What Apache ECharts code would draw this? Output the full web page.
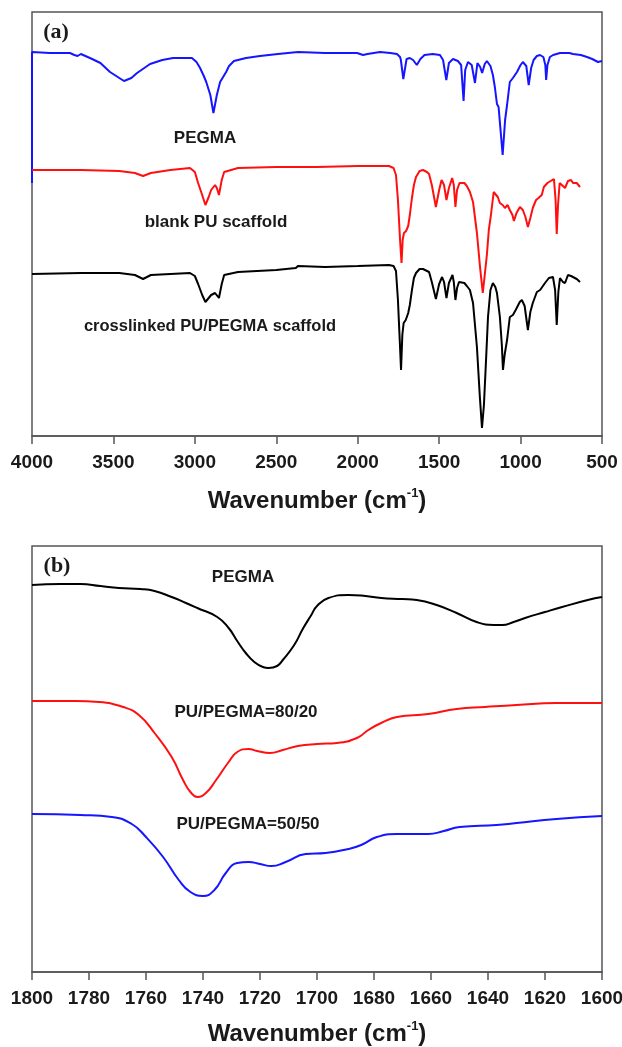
<!DOCTYPE html>
<html>
<head>
<meta charset="utf-8">
<title>FTIR spectra</title>
<script src="https://cdn.jsdelivr.net/npm/echarts/dist/echarts.min.js"></script>
<style>
    body { margin: 0; background: #fff; }
    #main { width: 622px; height: 1047px; }
</style>
</head>
<body>
<div id="main"></div>
<script>
// (a) full range spectra, [wavenumber, transmittance a.u.]
var pegmaFull = [
    [4000, 253], [4000, 384], [3890, 383], [3767, 383], [3740, 381], [3720, 380], [3700, 382],
    [3644, 378], [3580, 373], [3521, 364], [3435, 355], [3390, 358], [3355, 363], [3275, 372],
    [3200, 376], [3134, 378], [3018, 378], [2990, 374], [2968, 368], [2945, 360], [2930, 354],
    [2905, 341], [2886, 323], [2865, 341], [2845, 354], [2808, 364], [2790, 370], [2760, 375],
    [2686, 378], [2600, 380], [2490, 382], [2367, 384], [2200, 383], [2109, 383], [2004, 383],
    [1967, 381], [1940, 382], [1863, 384], [1800, 383], [1759, 382], [1740, 379], [1735, 376],
    [1720, 357], [1700, 377], [1680, 378], [1660, 376], [1637, 371], [1615, 377], [1590, 381],
    [1540, 382], [1495, 381], [1476, 376], [1456, 356], [1440, 373], [1415, 377], [1385, 375],
    [1365, 371], [1350, 335], [1340, 366], [1323, 374], [1300, 371], [1280, 353], [1265, 373],
    [1248, 369], [1236, 363], [1220, 372], [1207, 375], [1185, 370], [1170, 361], [1158, 349],
    [1145, 332], [1135, 329], [1125, 328], [1110, 281], [1095, 316], [1083, 331], [1066, 354],
    [1055, 354], [1047, 358], [1022, 364], [1000, 371], [986, 374], [965, 370], [950, 351],
    [935, 368], [920, 376], [900, 380], [881, 381], [860, 379], [848, 371], [843, 356],
    [835, 371], [820, 379], [800, 381], [758, 383], [700, 383], [678, 382], [630, 381],
    [592, 379], [560, 377], [525, 374], [515, 373], [500, 375]
];
var blankPU = [
    [4000, 266], [3700, 266], [3464, 265], [3368, 263], [3318, 260], [3270, 263], [3150, 266],
    [3030, 268], [3000, 264], [2980, 253], [2955, 241], [2935, 231], [2915, 239], [2900, 246],
    [2876, 251], [2865, 248], [2852, 241], [2835, 256], [2820, 264], [2735, 268], [2500, 269],
    [2250, 269], [2000, 270], [1808, 270], [1780, 268], [1765, 261], [1753, 236], [1740, 196],
    [1731, 173], [1724, 196], [1716, 203], [1703, 205], [1690, 210], [1680, 221], [1667, 238],
    [1655, 251], [1642, 259], [1620, 265], [1599, 266], [1575, 264], [1562, 262], [1545, 251],
    [1520, 229], [1500, 246], [1485, 256], [1470, 251], [1455, 236], [1440, 248], [1420, 258],
    [1410, 251], [1400, 229], [1390, 246], [1375, 253], [1345, 253], [1330, 250], [1311, 244],
    [1292, 234], [1268, 203], [1249, 169], [1232, 143], [1220, 161], [1207, 181], [1195, 206],
    [1182, 221], [1165, 244], [1155, 246], [1140, 239], [1127, 233], [1110, 231], [1096, 228],
    [1080, 231], [1066, 226], [1050, 221], [1041, 215], [1025, 223], [1004, 229], [986, 226],
    [970, 219], [955, 209], [940, 218], [925, 228], [905, 236], [890, 238], [870, 241],
    [857, 249], [835, 253], [815, 255], [795, 257], [785, 236], [778, 202], [770, 231],
    [760, 253], [740, 250], [727, 248], [709, 255], [690, 256], [678, 253], [655, 253], [635, 249]
];
var crosslinked = [
    [4000, 162], [3700, 163], [3464, 163], [3368, 161], [3318, 157], [3270, 161], [3030, 163],
    [3000, 160], [2980, 152], [2955, 141], [2935, 134], [2915, 138], [2900, 141], [2876, 143],
    [2865, 142], [2852, 138], [2835, 152], [2820, 161], [2735, 164], [2500, 166], [2380, 168],
    [2367, 170], [2355, 168], [2200, 169], [2000, 170], [1808, 171], [1780, 170], [1765, 165],
    [1753, 136], [1742, 96], [1734, 66], [1726, 101], [1718, 113], [1705, 116], [1690, 123],
    [1680, 131], [1667, 146], [1655, 158], [1642, 163], [1620, 167], [1599, 167], [1562, 164],
    [1545, 154], [1520, 137], [1500, 152], [1482, 159], [1470, 154], [1455, 138], [1440, 153],
    [1418, 161], [1410, 154], [1400, 136], [1390, 148], [1378, 154], [1345, 153], [1330, 150],
    [1311, 146], [1292, 133], [1268, 89], [1250, 39], [1237, 8], [1225, 31], [1212, 76],
    [1200, 119], [1185, 146], [1170, 153], [1155, 149], [1145, 143], [1127, 119], [1115, 91],
    [1108, 66], [1098, 81], [1083, 96], [1066, 119], [1047, 121], [1030, 126], [1005, 134],
    [992, 136], [975, 130], [955, 106], [940, 124], [925, 133], [900, 144], [880, 146],
    [850, 153], [826, 158], [801, 159], [788, 146], [778, 111], [768, 144], [758, 158],
    [740, 154], [727, 153], [709, 161], [690, 160], [678, 159], [655, 157], [635, 154]
];

// (b) carbonyl region
var pegmaCO = [
    [1800, 387], [1790, 388], [1783, 388], [1776, 386], [1769.5, 384], [1762, 383], [1757, 381],
    [1751, 375], [1746, 369], [1742, 364], [1735, 355], [1731, 344], [1728, 331], [1725, 319],
    [1722, 310], [1719, 305], [1717, 304], [1714, 306], [1712, 312], [1708, 327], [1705, 343],
    [1702, 357], [1700, 366], [1696, 374], [1689, 377], [1683, 376], [1677.5, 374], [1670, 373],
    [1665, 372], [1658, 367], [1651, 359], [1644, 350], [1638, 347], [1635, 347], [1631, 350],
    [1627, 354], [1620, 360], [1614, 365], [1605, 372], [1600, 375]
];
var pu8020 = [
    [1800, 271], [1785, 271], [1776.5, 270], [1768, 265], [1762.5, 257], [1757, 239], [1751, 215],
    [1747, 192], [1744.4, 180], [1742, 175], [1739, 179], [1735.4, 192], [1731, 210], [1728, 220],
    [1724, 223], [1721, 221], [1716.5, 219], [1712, 222], [1706.7, 226], [1700, 228], [1693, 229],
    [1686, 234], [1682, 242], [1677.5, 249], [1672, 255], [1661, 258], [1651, 263], [1641, 265],
    [1630, 267], [1616, 269], [1600, 269]
];
var pu5050 = [
    [1800, 158], [1783, 157], [1772, 155], [1765, 148], [1760, 135], [1754, 115], [1748.5, 92],
    [1744.4, 80], [1740, 76], [1736, 82], [1732, 99], [1728, 109], [1724, 110], [1720, 108],
    [1716, 106], [1711, 110], [1704, 118], [1697, 119], [1689, 123], [1684.5, 127], [1679, 135],
    [1672, 138], [1661, 138], [1655.5, 141], [1650, 145], [1637, 147], [1630, 149], [1616, 153],
    [1600, 156]
];

var chart = echarts.init(document.getElementById('main'));

var font = 'Liberation Sans, Arial, sans-serif';
var ink = '#1a1a1a';

function makeX(idx, min, max, step, gap) {
    return {
        gridIndex: idx,
        type: 'value',
        inverse: true,
        min: min,
        max: max,
        interval: step,
        name: '{t|Wavenumber (cm}{s|-1}{t|)}',
        nameLocation: 'middle',
        nameGap: gap,
        nameTextStyle: {
            rich: {
                t: { fontSize: 24, fontWeight: 'bold', fontFamily: font, color: ink, lineHeight: 28 },
                s: { fontSize: 13, fontWeight: 'bold', fontFamily: font, color: ink, verticalAlign: 'top', lineHeight: 14 }
            }
        },
        axisLine: { show: true, onZero: false, lineStyle: { color: '#555', width: 1.5 } },
        axisTick: { show: true, inside: false, length: 8, lineStyle: { color: '#555', width: 1.5 } },
        axisLabel: {
            fontSize: 19, fontWeight: 'bold', fontFamily: font, color: ink, margin: 17,
            formatter: function (v) { return String(v); }
        },
        splitLine: { show: false }
    };
}

function makeY(idx, max) {
    return {
        gridIndex: idx,
        type: 'value',
        min: 0,
        max: max,
        axisLine: { show: false },
        axisTick: { show: false },
        axisLabel: { show: false },
        splitLine: { show: false }
    };
}

function line(name, data, color, idx, smooth) {
    return {
        name: name,
        type: 'line',
        xAxisIndex: idx,
        yAxisIndex: idx,
        data: data,
        showSymbol: false,
        smooth: smooth,
        lineStyle: { color: color, width: 2 },
        itemStyle: { color: color },
        animation: false
    };
}

function label(text, x, y, size, family) {
    return {
        type: 'text',
        x: x,
        y: y,
        style: {
            text: text,
            fill: ink,
            font: 'bold ' + size + 'px ' + (family || font),
            textAlign: 'center',
            textVerticalAlign: 'middle'
        }
    };
}

var option = {
    backgroundColor: '#fff',
    animation: false,
    grid: [
        { left: 32, right: 20, top: 12, height: 424, show: true, borderColor: '#555', borderWidth: 1.5, outerBoundsMode: 'none', containLabel: false },
        { left: 32, right: 20, top: 546, height: 426, show: true, borderColor: '#555', borderWidth: 1.5, outerBoundsMode: 'none', containLabel: false }
    ],
    xAxis: [makeX(0, 500, 4000, 500, 51), makeX(1, 1600, 1800, 20, 48)],
    yAxis: [makeY(0, 424), makeY(1, 426)],
    series: [
        line('PEGMA', pegmaFull, '#1515ff', 0, false),
        line('blank PU scaffold', blankPU, '#ff1010', 0, false),
        line('crosslinked PU/PEGMA scaffold', crosslinked, '#000', 0, false),
        line('PEGMA', pegmaCO, '#000', 1, 0.5),
        line('PU/PEGMA=80/20', pu8020, '#ff1010', 1, 0.5),
        line('PU/PEGMA=50/50', pu5050, '#1515ff', 1, 0.5)
    ],
    graphic: [
        label('(a)', 56, 32, 22, 'Liberation Serif, Times New Roman, serif'),
        label('PEGMA', 205, 138, 17),
        label('blank PU scaffold', 216, 222, 17),
        label('crosslinked PU/PEGMA scaffold', 210, 326, 16.5),
        label('(b)', 57, 566, 22, 'Liberation Serif, Times New Roman, serif'),
        label('PEGMA', 243, 577, 17),
        label('PU/PEGMA=80/20', 246, 712, 17),
        label('PU/PEGMA=50/50', 248, 824, 17)
    ]
};

chart.setOption(option);
</script>
</body>
</html>
